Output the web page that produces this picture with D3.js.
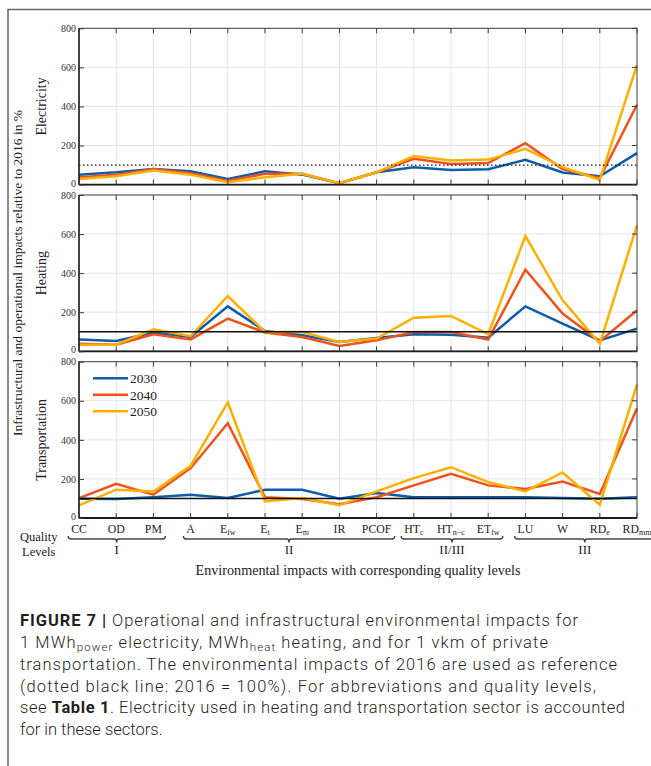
<!DOCTYPE html>
<html><head><meta charset="utf-8">
<script src="https://cdn.jsdelivr.net/npm/d3@7"></script>
<style>
html,body{margin:0;padding:0;background:#fff;}
svg{display:block;}
</style></head>
<body>
<svg id="chart" width="651" height="766"></svg>
<script>
// ---------------- DATA ----------------
const categories = ["CC","OD","PM","A","Efw","Et","Em","IR","PCOF","HTc","HTn-c","ETfw","LU","W","RDe","RDmm"];
const labelMain  = ["CC","OD","PM","A","E","E","E","IR","PCOF","HT","HT","ET","LU","W","RD","RD"];
const labelSub   = ["","","","","fw","t","m","","","c","n−c","fw","","","e","mm"];

const years = ["2030","2040","2050"];
const sectors = ["Electricity","Heating","Transportation"];
const yTicks = [0,200,400,600,800];
const referenceValue = 100;

const electricity2030 = [51,63,80,68,29,68,51,7,63,89,75,79,127,62,43,161];
const electricity2040 = [38,51,80,58,20,55,55,7,63,132,106,110,212,80,34,409];
const electricity2050 = [29,43,72,51,12,38,55,7,63,146,123,128,183,89,24,611];

const heating2030 = [61,53,96,73,230,104,82,48,68,87,85,70,230,142,56,116];
const heating2040 = [39,34,87,61,167,96,73,27,56,99,99,60,418,193,51,210];
const heating2050 = [34,34,113,77,283,99,99,48,65,172,181,87,590,261,39,645];

const transport2030 = [99,97,106,119,102,145,145,99,128,106,106,106,106,102,99,106];
const transport2040 = [102,175,119,255,485,106,97,71,106,167,226,167,148,187,123,562];
const transport2050 = [65,145,136,267,592,85,102,65,136,204,260,184,136,233,68,684];

const qualityLevels = ["I","II","II/III","III"];
const qualityStart  = [0,3,9,12];
const qualityEnd    = [2,8,11,15];

const panelData = [
  [electricity2030, electricity2040, electricity2050],
  [heating2030, heating2040, heating2050],
  [transport2030, transport2040, transport2050]
];

// ---------------- STYLE ----------------
const colors = ["#0b5ca9","#f0521b","#fdb000"];
const serif = "'Liberation Serif','Times New Roman',serif";
const sans = "Roboto,'Liberation Sans',Arial,sans-serif";

const svg = d3.select("#chart");

// outer frame
svg.append("path").attr("d","M8,766 L8,9.5 L651,9.5")
  .attr("fill","none").attr("stroke","#666").attr("stroke-width",1.5);

const left = 79, right = 637;
const x = d3.scalePoint().domain(categories).range([left,right]);
const panelTop = [28.3, 195, 361.7];
const panelH = 156.3;

panelData.forEach((series, pi) => {
  const top = panelTop[pi], bottom = top + panelH;
  const y = d3.scaleLinear().domain([0,800]).range([bottom, top]);
  const g = svg.append("g");

  // grid
  g.selectAll(".vg").data(categories.slice(1,-1)).join("line")
    .attr("x1",d=>x(d)).attr("x2",d=>x(d)).attr("y1",top).attr("y2",bottom)
    .attr("stroke","#e4e4e4").attr("stroke-width",1);
  g.selectAll(".hg").data(yTicks.slice(1,-1)).join("line")
    .attr("x1",left).attr("x2",right).attr("y1",d=>y(d)).attr("y2",d=>y(d))
    .attr("stroke","#e4e4e4").attr("stroke-width",1);

  // series lines
  const line = d3.line().x((d,i)=>x(categories[i])).y(d=>y(d));
  series.forEach((vals, si) => {
    g.append("path").datum(vals).attr("d", line)
      .attr("fill","none").attr("stroke",colors[si]).attr("stroke-width",2.5)
      .attr("stroke-linejoin","miter");
  });

  // reference line
  g.append("line").attr("x1",left).attr("x2",right)
    .attr("y1",y(referenceValue)).attr("y2",y(referenceValue))
    .attr("stroke","#111").attr("stroke-width", pi===0 ? 1.2 : 1.4)
    .attr("stroke-dasharray", pi===0 ? "1.5,2.5" : null);

  // box
  g.append("rect").attr("x",left).attr("y",top).attr("width",right-left).attr("height",panelH)
    .attr("fill","none").attr("stroke","#3a3a3a").attr("stroke-width",1);
  g.append("line").attr("x1",left).attr("x2",right).attr("y1",bottom).attr("y2",bottom)
    .attr("stroke","#1a1a1a").attr("stroke-width",1.8);
  g.append("line").attr("x1",left).attr("x2",left).attr("y1",top).attr("y2",bottom)
    .attr("stroke","#1a1a1a").attr("stroke-width",1.4);

  // x tick marks top and bottom (inward)
  g.selectAll(".tt").data(categories).join("line")
    .attr("x1",d=>x(d)).attr("x2",d=>x(d)).attr("y1",top).attr("y2",top+5)
    .attr("stroke","#3a3a3a");
  g.selectAll(".tb").data(categories).join("line")
    .attr("x1",d=>x(d)).attr("x2",d=>x(d)).attr("y1",bottom).attr("y2",bottom-5)
    .attr("stroke","#3a3a3a");
  // right ticks
  g.selectAll(".tr").data(yTicks).join("line")
    .attr("x1",right).attr("x2",right-5).attr("y1",d=>y(d)).attr("y2",d=>y(d))
    .attr("stroke","#3a3a3a");

  // y axis labels via d3 axis
  const ax = g.append("g").attr("transform",`translate(${left},0)`)
    .call(d3.axisLeft(y).tickValues(yTicks).tickSize(-5).tickPadding(3).tickFormat(d3.format("d")));
  ax.select(".domain").remove();
  ax.selectAll("line").attr("stroke","#3a3a3a");
  ax.selectAll("text").attr("font-family",serif).attr("font-size",10).attr("fill","#333")
    .attr("dy", d => d === 0 ? "0.15em" : "0.32em");

  // panel label
  svg.append("text")
    .attr("transform",`translate(45.5,${(top+bottom)/2}) rotate(-90)`)
    .attr("text-anchor","middle").attr("font-family",serif).attr("font-size",14).attr("fill","#222")
    .text(sectors[pi]);

  // legend in last panel
  if (pi === 2) {
    years.forEach((yr, si) => {
      const ly = top + 16.5 + si*16.5;
      svg.append("line").attr("x1",93).attr("x2",128).attr("y1",ly).attr("y2",ly)
        .attr("stroke",colors[si]).attr("stroke-width",2.5);
      svg.append("text").attr("x",130).attr("y",ly+4.8)
        .attr("font-family",serif).attr("font-size",13.5).attr("fill","#222").text(yr);
    });
  }
});

// big y label
svg.append("text")
  .attr("transform",`translate(21.5,273) rotate(-90)`)
  .attr("text-anchor","middle").attr("font-family",serif).attr("font-size",13.5).attr("fill","#222")
  .text("Infrastructural and operational impacts relative to 2016 in %");

// x tick labels
const xl = svg.append("g");
const labelNodes = [];
categories.forEach((c,i) => {
  const t = xl.append("text").attr("x",x(c)).attr("y",533).attr("text-anchor","middle")
    .attr("font-family",serif).attr("font-size",11.8).attr("fill","#222");
  t.append("tspan").text(labelMain[i]);
  if (labelSub[i]) t.append("tspan").attr("font-size",8).attr("dy",2).text(labelSub[i]);
  labelNodes.push(t.node());
});

// quality braces
svg.append("text").attr("x",20).attr("y",540.5).attr("font-family",serif).attr("font-size",12.5).attr("fill","#222").text("Quality");
svg.append("text").attr("x",22).attr("y",555.5).attr("font-family",serif).attr("font-size",12.5).attr("fill","#222").text("Levels");
const by = 539;
qualityLevels.forEach((q, qi) => {
  const b0 = labelNodes[qualityStart[qi]].getBBox();
  const b1 = labelNodes[qualityEnd[qi]].getBBox();
  const x0 = b0.x - 3, x1 = b1.x + b1.width + 3;
  const xm = (x0 + x1)/2;
  const p = `M${x0},${by-3} Q${x0},${by} ${x0+3},${by} L${xm-2},${by} Q${xm},${by} ${xm},${by+3.5} Q${xm},${by} ${xm+2},${by} L${x1-3},${by} Q${x1},${by} ${x1},${by-3}`;
  svg.append("path").attr("d",p).attr("fill","none").attr("stroke","#444").attr("stroke-width",1.4);
  svg.append("text").attr("x",xm).attr("y",554).attr("text-anchor","middle")
    .attr("font-family",serif).attr("font-size",13).attr("fill","#222").text(q);
});

// x title
svg.append("text").attr("x",(left+right)/2).attr("y",575).attr("text-anchor","middle")
  .attr("font-family",serif).attr("font-size",14.2).attr("fill","#222")
  .text("Environmental impacts with corresponding quality levels");

// caption
const capLines = [
  {y:626, w:558, parts:[{t:"FIGURE 7 | ",b:true},{t:"Operational and infrastructural environmental impacts for"}]},
  {y:648, w:528, parts:[{t:"1 MWh"},{t:"power",sub:true},{t:" electricity, MWh"},{t:"heat",sub:true},{t:" heating, and for 1 vkm of private"}]},
  {y:670, w:597, parts:[{t:"transportation. The environmental impacts of 2016 are used as reference"}]},
  {y:691.5, w:576, parts:[{t:"(dotted black line: 2016 = 100%). For abbreviations and quality levels,"}]},
  {y:713, w:605, parts:[{t:"see "},{t:"Table 1",b:true},{t:". Electricity used in heating and transportation sector is accounted"}]},
  {y:734.5, w:null, parts:[{t:"for in these sectors."}]}
];
capLines.forEach(L => {
  const t = svg.append("text").attr("x",20).attr("y",L.y)
    .attr("font-family",sans).attr("font-size",16.5).attr("font-weight",300).attr("fill","#231f20");
  L.parts.forEach(p => {
    const ts = t.append("tspan").text(p.t);
    if (p.b) ts.attr("font-weight","bold");
    if (p.sub) { ts.attr("font-size",11.5).attr("baseline-shift","-25%"); }
  });
  if (L.w) t.attr("textLength",L.w).attr("lengthAdjust","spacing");
});
</script>
</body></html>
